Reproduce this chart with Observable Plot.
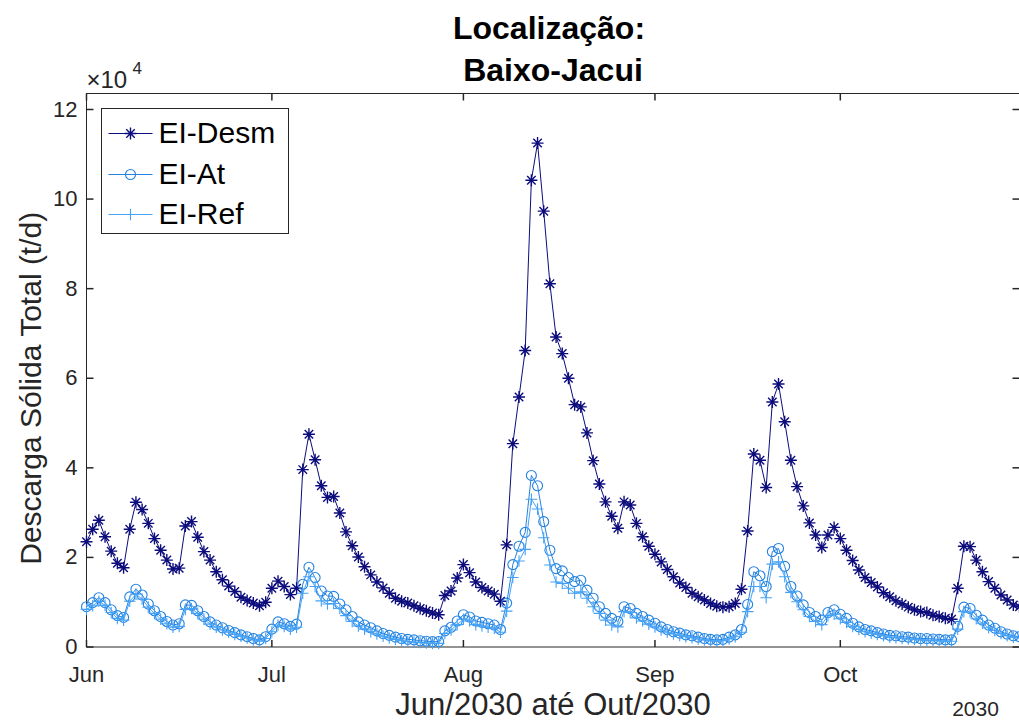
<!DOCTYPE html>
<html>
<head>
<meta charset="utf-8">
<script src="https://cdn.jsdelivr.net/npm/d3@7"></script>
<script src="https://cdn.jsdelivr.net/npm/@observablehq/plot@0.6"></script>
<style>
  html, body { margin: 0; padding: 0; background: #ffffff; }
  #chart { width: 1019px; height: 724px; }
</style>
</head>
<body>
<div id="chart"></div>
<script>
// Daily total sediment discharge (t/d) at Baixo-Jacui, starting 1 Jun 2030
const startDay = "2030-06-01";
const endDay = "2030-10-30";

const elDesm = [
  23500, 26300, 28300, 24600, 21400, 18700, 17700, 26300, 32300, 30700,
  27600, 24200, 21600, 19400, 17400, 17600, 27000, 28000, 24500, 21300,
  19400, 16800, 15000, 13600, 12400, 11100, 10400, 9800, 9200, 10000,
  13100, 14700, 13500, 11700, 13100, 39600, 47500, 41800, 36000, 33400,
  33600, 29900, 25700, 22600, 20100, 17900, 16100, 14500, 13200, 12000,
  10900, 10200, 9800, 9200, 8600, 8100, 7600, 7200, 11500, 12500,
  15400, 18400, 16600, 14500, 13300, 12500, 11800, 10200, 22800, 45400,
  55800, 66200, 104200, 112500, 97300, 81100, 69200, 65500, 60000, 54100,
  53600, 47800, 41600, 36400, 32400, 29200, 26500, 32400, 31700, 27600,
  24600, 22500, 20700, 19000, 17300, 15700, 14300, 13300, 12000, 11200,
  10500, 9700, 9100, 8900, 9000, 9700, 12900, 25900, 43100, 41700,
  35600, 54700, 58700, 50300, 41700, 35800, 31500, 27700, 25000, 22200,
  25000, 26700, 24200, 21600, 19300, 17200, 15500, 14400, 13400, 12100,
  11200, 10300, 9600, 8900, 8300, 7900, 7700, 7100, 6800, 6400,
  6200, 13100, 22500, 22400, 19400, 16800, 14600, 13100, 11600, 10500,
  9400, 9000
];

const elAt = [
  9000, 9900, 11000, 9900, 8300, 7000, 6600, 11200, 12900, 11600,
  9600, 8100, 6800, 5700, 4900, 5200, 9400, 9300, 8100, 6800,
  5600, 4900, 4300, 3700, 3200, 2700, 2300, 1900, 1600, 2300,
  4000, 5600, 5200, 4600, 5100, 14000, 17800, 15500, 12500, 11400,
  11300, 9600, 8300, 6800, 5600, 4900, 4300, 3600, 3000, 2600,
  2200, 1900, 1700, 1600, 1400, 1300, 1200, 1200, 3600, 4400,
  5800, 7200, 6700, 5800, 5500, 5200, 4900, 3900, 9800, 18400,
  22500, 25600, 38300, 36000, 28000, 21600, 17500, 17000, 15500, 14600,
  14900, 12700, 10900, 9000, 7500, 6400, 5700, 9000, 8600, 7500,
  6800, 6000, 5300, 4500, 3900, 3400, 3100, 2700, 2500, 2200,
  1900, 1700, 1600, 1700, 2200, 2700, 3900, 9500, 16800, 15900,
  13500, 21300, 22000, 18000, 13500, 11400, 9400, 7700, 6800, 6000,
  7700, 8300, 7300, 6400, 5300, 4500, 3900, 3600, 3200, 2900,
  2600, 2500, 2300, 2200, 2000, 1900, 1900, 1800, 1700, 1600,
  1600, 4600, 8900, 8600, 7100, 6000, 4900, 4200, 3400, 2900,
  2500, 2300
];

const elRef = [
  8400, 9200, 10200, 9300, 7700, 6400, 6000, 10200, 11800, 10700,
  8900, 7500, 6200, 5200, 4400, 4600, 8400, 8600, 7500, 6200,
  5100, 4400, 3800, 3300, 2800, 2400, 2000, 1600, 1300, 1900,
  3400, 4900, 4600, 4000, 4400, 12000, 15700, 13500, 10300, 9600,
  9700, 8600, 7000, 5700, 4700, 4000, 3400, 2900, 2400, 2000,
  1700, 1400, 1200, 1100, 1000, 900, 800, 800, 3000, 3800,
  5000, 6200, 5800, 5000, 4700, 4400, 4200, 3300, 8000, 15500,
  19200, 21800, 33000, 30800, 24400, 18300, 14500, 14200, 13100, 12000,
  12300, 10900, 9000, 7500, 6000, 4900, 4500, 7900, 7700, 6500,
  5800, 5100, 4500, 3800, 3300, 2900, 2600, 2300, 2100, 1800,
  1600, 1400, 1300, 1400, 1800, 2300, 3300, 7900, 13500, 13500,
  11000, 18500, 19000, 15700, 12200, 10100, 8300, 6800, 5700, 5000,
  7000, 7300, 6300, 5500, 4600, 3900, 3400, 3100, 2800, 2500,
  2200, 2100, 1900, 1800, 1700, 1600, 1500, 1500, 1400, 1300,
  1300, 4000, 7900, 7800, 6300, 5300, 4300, 3700, 3000, 2500,
  2200, 2000
];

const seriesNames = ["EI-Desm", "EI-At", "EI-Ref"];
const seriesColors = ["#0c0c7c", "#2382e0", "#45a2f6"];

const monthTicks = ["2030-06-01", "2030-07-01", "2030-08-01", "2030-09-01", "2030-10-01"];
const monthLabels = ["Jun", "Jul", "Aug", "Sep", "Oct"];
const yTicks = [0, 20000, 40000, 60000, 80000, 100000, 120000];
const yMax = 123570;

const start = new Date(startDay + "T00:00Z");
const toRows = (values, name) =>
  values.map((v, i) => ({date: d3.utcDay.offset(start, i), value: v, series: name}));
const rows = [toRows(elDesm, seriesNames[0]), toRows(elAt, seriesNames[1]), toRows(elRef, seriesNames[2])];
const monthDates = monthTicks.map(s => new Date(s + "T00:00Z"));

// Marker shapes drawn as stroked paths (r = sqrt(size / PI))
const radius = size => Math.sqrt(size / Math.PI);
const starSymbol = {draw(ctx, size) {
  const r = radius(size), d = r * Math.SQRT1_2;
  ctx.moveTo(-r, 0); ctx.lineTo(r, 0);
  ctx.moveTo(0, -r); ctx.lineTo(0, r);
  ctx.moveTo(-d, -d); ctx.lineTo(d, d);
  ctx.moveTo(-d, d); ctx.lineTo(d, -d);
}};
const plusSymbol = {draw(ctx, size) {
  const r = radius(size);
  ctx.moveTo(-r, 0); ctx.lineTo(r, 0);
  ctx.moveTo(0, -r); ctx.lineTo(0, r);
}};
const circleSymbol = {draw(ctx, size) {
  const r = radius(size);
  ctx.moveTo(r, 0); ctx.arc(0, 0, r, 0, 2 * Math.PI);
}};
const markerSymbols = [starSymbol, circleSymbol, plusSymbol];
const markerRadii = [6, 5, 5.8];
const markerWidths = [1.4, 1.1, 1.1];

// Inward tick marks of fixed pixel length
const tickLen = 7;
const tickUp = {draw(ctx) { ctx.moveTo(0, 0); ctx.lineTo(0, -tickLen); }};
const tickDown = {draw(ctx) { ctx.moveTo(0, 0); ctx.lineTo(0, tickLen); }};
const tickRight = {draw(ctx) { ctx.moveTo(0, 0); ctx.lineTo(tickLen, 0); }};
const tickLeft = {draw(ctx) { ctx.moveTo(0, 0); ctx.lineTo(-tickLen, 0); }};

const axisColor = "#262626";
const font = "'Liberation Sans', Arial, Helvetica, sans-serif";

const mL = 86, mT = 93, W = 1019, H = 724, mB = 77.5;

const seriesMarks = rows.flatMap((data, k) => [
  Plot.line(data, {x: "date", y: "value", stroke: seriesColors[k], strokeWidth: 1}),
  Plot.dot(data, {x: "date", y: "value", symbol: markerSymbols[k], r: markerRadii[k],
    stroke: seriesColors[k], fill: "none", strokeWidth: markerWidths[k]})
]);

// Legend entries placed inside the plot's top-left corner
const legendRowsY = [40, 81, 121];
const legendMarks = seriesNames.flatMap((name, k) => [
  Plot.dot([name], {frameAnchor: "top-left", dx: 22, dy: legendRowsY[k],
    symbol: {draw(ctx) { ctx.moveTo(0, 0); ctx.lineTo(44, 0); }}, r: 1,
    stroke: seriesColors[k], strokeWidth: 1}),
  Plot.dot([name], {frameAnchor: "top-left", dx: 44, dy: legendRowsY[k],
    symbol: markerSymbols[k], r: markerRadii[k], stroke: seriesColors[k], fill: "none",
    strokeWidth: markerWidths[k]}),
  Plot.text([name], {frameAnchor: "top-left", dx: 72, dy: legendRowsY[k], text: d => d,
    textAnchor: "start", lineAnchor: "middle", fontSize: 30, fill: "#000"})
]);

const chart = Plot.plot({
  width: W,
  height: H,
  marginLeft: mL,
  marginTop: mT,
  marginRight: 0,
  marginBottom: mB,
  style: {fontFamily: font, background: "#ffffff", overflow: "visible"},
  x: {type: "utc", domain: [start, new Date(endDay + "T00:00Z")], axis: null},
  y: {domain: [0, yMax], axis: null},
  marks: [
    Plot.frame({stroke: axisColor, strokeWidth: 1}),
    // ticks
    Plot.dot(monthDates, {x: d => d, frameAnchor: "bottom", symbol: tickUp, r: 1, stroke: axisColor, fill: "none"}),
    Plot.dot(monthDates, {x: d => d, frameAnchor: "top", symbol: tickDown, r: 1, stroke: axisColor, fill: "none"}),
    Plot.dot(yTicks, {y: d => d, frameAnchor: "left", symbol: tickRight, r: 1, stroke: axisColor, fill: "none"}),
    Plot.dot(yTicks, {y: d => d, frameAnchor: "right", symbol: tickLeft, r: 1, stroke: axisColor, fill: "none"}),
    // tick labels
    Plot.text(monthDates, {x: d => d, frameAnchor: "bottom", dy: 28, text: (d, i) => monthLabels[i],
      fontSize: 22, fill: axisColor, textAnchor: "middle", lineAnchor: "middle"}),
    Plot.text(yTicks, {y: d => d, frameAnchor: "left", dx: -9, text: d => String(d / 1e4),
      fontSize: 22, fill: axisColor, textAnchor: "end", lineAnchor: "middle"}),
    Plot.text(["\u00d710"], {frameAnchor: "top-left", dx: 0, dy: -13, text: d => d,
      fontSize: 24, fill: axisColor, textAnchor: "start", lineAnchor: "middle"}),
    Plot.text(["4"], {frameAnchor: "top-left", dx: 46, dy: -25, text: d => d,
      fontSize: 17, fill: axisColor, textAnchor: "start", lineAnchor: "middle"}),
    // data
    ...seriesMarks,
    // legend box
    Plot.frame({insetLeft: 15, insetTop: 15, insetRight: W - mL - 202, insetBottom: H - mB - mT - 140,
      fill: "#ffffff", stroke: axisColor, strokeWidth: 1}),
    ...legendMarks,
    // axis titles
    Plot.text(["Descarga Sólida Total (t/d)"], {frameAnchor: "left", dx: -55, dy: 18, text: d => d, rotate: -90,
      fontSize: 30, fill: axisColor, textAnchor: "middle", lineAnchor: "middle"}),
    Plot.text(["Jun/2030 até Out/2030"], {frameAnchor: "bottom", dx: 0, dy: 58, text: d => d,
      fontSize: 31, fill: axisColor, textAnchor: "middle", lineAnchor: "middle"}),
    Plot.text(["2030"], {frameAnchor: "bottom-right", dx: -44, dy: 62, text: d => d,
      fontSize: 21, fill: axisColor, textAnchor: "middle", lineAnchor: "middle"}),
    // chart title
    Plot.text(["Localização:"], {frameAnchor: "top", dx: -4, dy: -65, text: d => d,
      fontSize: 32, fontWeight: "bold", fill: "#000", textAnchor: "middle", lineAnchor: "middle"}),
    Plot.text(["Baixo-Jacui"], {frameAnchor: "top", dx: 0, dy: -23, text: d => d,
      fontSize: 32, fontWeight: "bold", fill: "#000", textAnchor: "middle", lineAnchor: "middle"})
  ]
});

document.getElementById("chart").appendChild(chart);
</script>
</body>
</html>
